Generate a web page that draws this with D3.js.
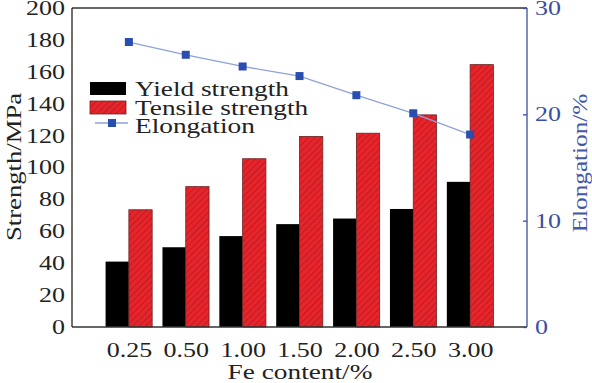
<!DOCTYPE html>
<html><head><meta charset="utf-8">
<script src="https://cdn.jsdelivr.net/npm/d3@7"></script>
<style>body{margin:0;background:#fff}svg{display:block}text{font-family:"Liberation Serif","Times New Roman",serif}</style>
</head><body><svg id="c" width="592" height="383"></svg>
<script>
const categories = ["0.25","0.50","1.00","1.50","2.00","2.50","3.00"];
const yieldStrength = [41, 50, 57, 64.5, 68, 74, 91];
const tensileStrength = [73.5, 88, 105.5, 119.5, 121.5, 133, 164.5];
const elongation = [26.8, 25.6, 24.5, 23.6, 21.8, 20.1, 18.1];
const strengthTicks = [0,20,40,60,80,100,120,140,160,180,200];
const elongTicks = [0,10,20,30];
const seriesNames = ["Yield strength","Tensile strength","Elongation"];

const svg = d3.select("#c");
const L=72,R=527,T=8,B=327;
const blue="#3a4ea3";
const SERIF='"Liberation Serif","Times New Roman",serif';

function stretch(sel, f){
  sel.each(function(){const w=this.getComputedTextLength();d3.select(this).attr("textLength",w*f).attr("lengthAdjust","spacingAndGlyphs");});
}

const defs = svg.append("defs");
const pat = defs.append("pattern").attr("id","hatch").attr("patternUnits","userSpaceOnUse")
  .attr("width",4.5).attr("height",4.5).attr("patternTransform","rotate(-45)");
pat.append("rect").attr("width",4.5).attr("height",4.5).attr("fill","#e8242b");
pat.append("line").attr("x1",0).attr("y1",0).attr("x2",4.5).attr("y2",0).attr("stroke","#b21c22").attr("stroke-width",1.6);

const x0 = d3.scaleBand().domain(categories).range([L,R]).paddingInner(0.181).paddingOuter(0.5905);
const x1 = d3.scaleBand().domain(["y","t"]).range([0,x0.bandwidth()]);
const yL = d3.scaleLinear().domain([0,200]).range([B,T]);
const yR = d3.scaleLinear().domain([0,30]).range([B,T]);

// bars
const g = svg.append("g");
g.selectAll(".yb").data(categories).join("rect")
  .attr("x",d=>x0(d)+x1("y")).attr("width",x1.bandwidth())
  .attr("y",(d,i)=>yL(yieldStrength[i])).attr("height",(d,i)=>B-yL(yieldStrength[i]))
  .attr("fill","#000");
g.selectAll(".tb").data(categories).join("rect")
  .attr("x",d=>x0(d)+x1("t")).attr("width",x1.bandwidth())
  .attr("y",(d,i)=>yL(tensileStrength[i])).attr("height",(d,i)=>B-yL(tensileStrength[i]))
  .attr("fill","url(#hatch)").attr("stroke","#6a2323").attr("stroke-width",0.8);

// frame
svg.append("line").attr("x1",L).attr("x2",R).attr("y1",T).attr("y2",T).attr("stroke","#333").attr("stroke-width",1.3);
svg.append("line").attr("x1",L).attr("x2",R).attr("y1",B).attr("y2",B).attr("stroke","#333").attr("stroke-width",1.3);
svg.append("line").attr("x1",L).attr("x2",L).attr("y1",T).attr("y2",B).attr("stroke","#222").attr("stroke-width",1.3);
svg.append("line").attr("x1",R).attr("x2",R).attr("y1",T).attr("y2",B).attr("stroke",blue).attr("stroke-width",1.3);

// left axis
const la = svg.append("g").attr("transform",`translate(${L},0)`)
  .call(d3.axisLeft(yL).tickValues(strengthTicks).tickSize(0).tickPadding(7));
la.attr("font-family",SERIF);
la.select(".domain").remove();
la.selectAll("text").attr("font-size",20).attr("fill","#222");
stretch(la.selectAll("text"),1.3);

// right axis
const ra = svg.append("g").attr("transform",`translate(${R},0)`)
  .call(d3.axisRight(yR).tickValues(elongTicks).tickSize(-4).tickPadding(8));
ra.attr("font-family",SERIF);
ra.select(".domain").remove();
ra.selectAll("line").attr("stroke",blue).attr("stroke-width",1.3);
ra.selectAll("text").attr("font-size",20).attr("fill",blue);
stretch(ra.selectAll("text"),1.3);

// bottom axis
const xp = d3.scalePoint().domain(categories).range([L,R]).padding(1);
const ba = svg.append("g").attr("transform",`translate(0,${B})`)
  .call(d3.axisBottom(xp).tickSize(0).tickPadding(16));
ba.attr("font-family",SERIF);
ba.select(".domain").remove();
ba.selectAll("text").attr("font-size",20).attr("fill","#222");
stretch(ba.selectAll("text"),1.3);

// titles
const xt = svg.append("text").attr("x",300).attr("y",379).attr("text-anchor","middle")
  .attr("font-size",21).attr("fill","#222").text("Fe content/%");
stretch(xt,1.3);
const ylt = svg.append("text").attr("transform","translate(21,167) rotate(-90)").attr("text-anchor","middle")
  .attr("font-size",21).attr("fill","#222").text("Strength/MPa");
stretch(ylt,1.27);
const yrt = svg.append("text").attr("transform","translate(587,163) rotate(-90)").attr("text-anchor","middle")
  .attr("font-size",21).attr("fill","#4656a6").text("Elongation/%");
stretch(yrt,1.2);

// elongation line
const line = d3.line().x((d,i)=>xp(categories[i])).y(d=>yR(d));
svg.append("path").datum(elongation).attr("d",line).attr("fill","none").attr("stroke","#8ea2d8").attr("stroke-width",1.3);
svg.selectAll(".mk").data(elongation).join("rect")
  .attr("x",(d,i)=>xp(categories[i])-4).attr("y",d=>yR(d)-4).attr("width",8).attr("height",8)
  .attr("fill","#2a4db0");

// legend
const lg = svg.append("g");
lg.append("rect").attr("x",90).attr("y",82).attr("width",36).attr("height",13).attr("fill","#000");
lg.append("rect").attr("x",90).attr("y",101).attr("width",36).attr("height",13).attr("fill","url(#hatch)").attr("stroke","#6a2323").attr("stroke-width",0.8);
lg.append("line").attr("x1",95).attr("x2",128).attr("y1",123).attr("y2",123).attr("stroke","#8ea2d8").attr("stroke-width",1.3);
lg.append("rect").attr("x",108).attr("y",119).attr("width",8).attr("height",8).attr("fill","#2a4db0");
const lt = lg.selectAll(".lt").data(seriesNames).join("text")
  .attr("x",135).attr("y",(d,i)=>96+i*18.5).attr("font-size",21).attr("fill","#222").text(d=>d);
stretch(lt,1.3);
</script></body></html>
